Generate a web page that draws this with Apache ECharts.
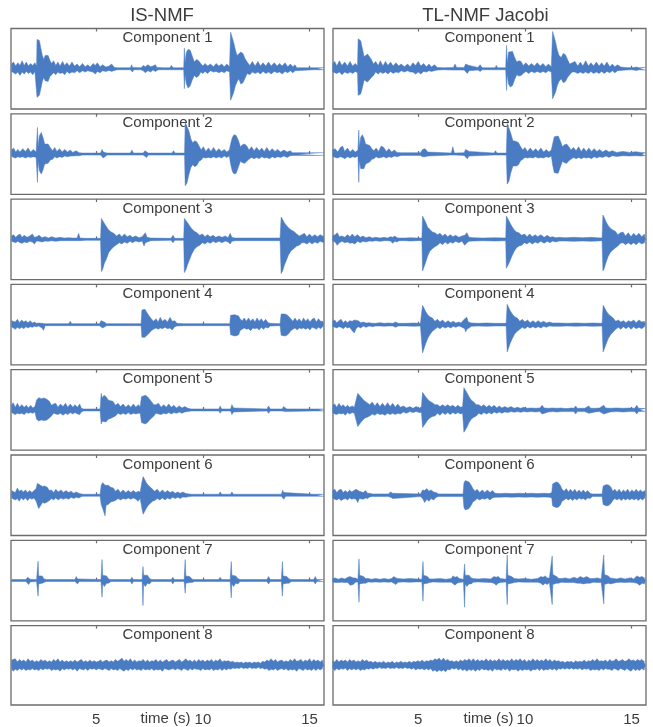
<!DOCTYPE html>
<html>
<head>
<meta charset="utf-8">
<script src="https://cdn.jsdelivr.net/npm/echarts@6/dist/echarts.min.js"></script>
<style>
html,body{margin:0;padding:0;background:#fff;}
#chart{width:653px;height:727px;}
</style>
</head>
<body>
<div id="chart"></div>
<script>
// ---- data: envelope key points [time (s), upper amplitude, lower amplitude] ----
const methods = ['IS-NMF', 'TL-NMF Jacobi'];
const components = ['Component 1','Component 2','Component 3','Component 4','Component 5','Component 6','Component 7','Component 8'];
const xTicks = [5, 10, 15];
const timeLabel = 'time (s)';

const isnmf1 = [[1.02,14,-8],[1.12,20,-12],[1.22,8,-16],[1.32,18,-10],[1.42,10,-20],[1.52,24,-10],[1.62,10,-16],[1.72,20,-8],[1.82,8,-14],[1.92,16,-10],[2.02,10,-18],[2.12,18,-8],[2.2,8,-12],[2.22,88,-86],[2.27,92,-88],[2.33,85,-80],[2.4,62,-60],[2.47,40,-38],[2.54,28,-26],[2.6,40,-36],[2.67,46,-42],[2.74,40,-38],[2.82,26,-24],[2.9,16,-22],[3.0,24,-12],[3.1,10,-18],[3.2,20,-10],[3.3,8,-14],[3.42,22,-12],[3.52,10,-18],[3.62,18,-8],[3.74,8,-14],[3.86,20,-10],[3.98,8,-12],[4.1,14,-6],[4.22,6,-12],[4.35,16,-6],[4.48,6,-10],[4.6,12,-6],[4.72,5,-8],[4.85,16,-10],[4.95,10,-16],[5.05,18,-8],[5.18,6,-12],[5.3,12,-6],[5.45,5,-8],[5.6,8,-5],[5.72,14,-8],[5.85,4,-5],[6.0,3,-3],[6.4,3,-3],[6.6,3,-3],[6.66,12,-4],[6.7,4,-10],[6.76,3,-3],[7.1,3,-3],[7.2,10,-6],[7.3,6,-12],[7.42,12,-6],[7.55,6,-10],[7.65,8,-4],[7.78,12,-8],[7.84,4,-12],[7.9,3,-3],[8.2,3,-3],[8.45,3,-3],[8.52,10,-8],[8.6,3,-3],[9.1,3,-3],[9.13,62,-60],[9.16,18,-18],[9.22,48,-44],[9.3,58,-58],[9.4,56,-52],[9.5,38,-34],[9.6,20,-20],[9.7,28,-26],[9.8,24,-22],[9.9,16,-10],[10.0,8,-14],[10.1,16,-8],[10.22,8,-14],[10.35,14,-6],[10.5,6,-10],[10.62,16,-8],[10.75,8,-12],[10.88,14,-8],[11.0,6,-12],[11.12,14,-6],[11.25,6,-10],[11.3,110,-95],[11.36,104,-92],[11.44,80,-72],[11.52,58,-52],[11.6,40,-40],[11.68,34,-30],[11.78,50,-46],[11.88,46,-42],[11.98,30,-28],[12.08,20,-14],[12.2,10,-18],[12.32,22,-10],[12.45,8,-14],[12.58,22,-10],[12.7,8,-16],[12.82,18,-8],[12.95,8,-14],[13.08,20,-10],[13.2,8,-16],[13.35,18,-8],[13.48,8,-12],[13.6,16,-10],[13.72,8,-16],[13.85,18,-8],[13.98,6,-12],[14.1,14,-6],[14.22,6,-12],[14.32,12,-6],[14.4,3,-3],[15.2,3,-3],[15.27,8,-6],[15.34,3,-3],[15.68,3,-3]];
const isnmf2 = [[1.02,12,-6],[1.12,18,-10],[1.22,6,-12],[1.32,14,-8],[1.42,6,-10],[1.55,16,-8],[1.68,8,-12],[1.8,18,-8],[1.92,6,-10],[2.05,14,-8],[2.18,6,-10],[2.24,80,-85],[2.27,22,-22],[2.33,55,-50],[2.42,65,-60],[2.5,50,-48],[2.58,30,-30],[2.66,32,-30],[2.74,30,-28],[2.84,20,-18],[2.95,10,-16],[3.05,20,-8],[3.15,8,-12],[3.28,16,-8],[3.4,6,-10],[3.52,14,-6],[3.65,6,-8],[3.78,12,-6],[3.9,5,-6],[4.05,10,-5],[4.2,4,-5],[4.35,3,-3],[5.2,3,-3],[5.27,14,-6],[5.33,6,-12],[5.42,10,-8],[5.5,3,-3],[6.6,3,-3],[6.67,12,-6],[6.74,3,-3],[7.2,3,-3],[7.28,10,-6],[7.36,6,-10],[7.44,3,-3],[8.55,3,-3],[8.62,10,-8],[8.69,3,-3],[9.14,3,-3],[9.17,95,-95],[9.25,90,-88],[9.34,70,-62],[9.44,45,-40],[9.52,34,-32],[9.62,40,-38],[9.72,36,-34],[9.82,24,-22],[9.92,12,-18],[10.02,22,-10],[10.14,8,-12],[10.26,18,-10],[10.38,8,-12],[10.5,20,-8],[10.62,8,-12],[10.75,16,-8],[10.88,8,-12],[11.0,14,-6],[11.12,6,-10],[11.24,12,-6],[11.3,30,-30],[11.38,50,-52],[11.46,58,-60],[11.56,56,-58],[11.66,42,-40],[11.76,22,-22],[11.86,28,-26],[11.96,30,-28],[12.06,24,-22],[12.16,12,-16],[12.28,22,-10],[12.4,10,-14],[12.52,20,-10],[12.64,10,-14],[12.76,18,-8],[12.88,8,-12],[13.0,20,-10],[13.12,8,-14],[13.25,16,-8],[13.38,8,-12],[13.5,14,-8],[13.65,6,-10],[13.8,12,-6],[13.95,6,-10],[14.1,10,-5],[14.2,4,-4],[15.68,4,-4]];
const isnmf3 = [[1.02,10,-6],[1.12,14,-8],[1.22,6,-10],[1.32,12,-6],[1.42,16,-10],[1.52,6,-12],[1.62,12,-8],[1.75,6,-10],[1.88,10,-6],[2.0,16,-8],[2.1,6,-14],[2.2,8,-5],[2.32,12,-6],[2.45,5,-8],[2.6,8,-5],[2.75,4,-6],[2.9,8,-4],[3.1,4,-6],[3.3,6,-4],[3.5,4,-4],[3.7,5,-4],[3.9,4,-4],[4.1,4,-4],[4.17,18,-8],[4.24,4,-4],[4.5,3,-3],[5.2,3,-3],[5.24,63,-97],[5.3,58,-90],[5.38,48,-72],[5.48,38,-58],[5.58,28,-40],[5.7,22,-30],[5.82,18,-22],[5.95,10,-16],[6.08,16,-10],[6.2,8,-14],[6.32,16,-8],[6.45,8,-12],[6.58,12,-6],[6.7,6,-10],[6.85,10,-5],[7.0,5,-8],[7.15,8,-5],[7.24,12,-20],[7.3,20,-10],[7.38,6,-6],[7.55,4,-4],[8.5,3,-3],[8.6,12,-10],[8.68,3,-3],[9.1,3,-3],[9.13,63,-100],[9.2,58,-92],[9.28,50,-76],[9.38,40,-60],[9.48,32,-44],[9.6,24,-30],[9.72,20,-22],[9.85,12,-18],[9.98,16,-10],[10.1,8,-14],[10.22,14,-8],[10.35,8,-12],[10.48,12,-6],[10.6,6,-10],[10.75,10,-6],[10.9,6,-10],[11.05,10,-5],[11.18,5,-8],[11.28,18,-14],[11.36,6,-6],[11.5,4,-4],[11.92,4,-4],[11.98,10,-8],[12.05,4,-4],[12.5,4,-4],[12.55,10,-8],[12.62,4,-4],[12.94,4,-4],[13.0,10,-10],[13.08,4,-4],[13.62,4,-4],[13.67,67,-103],[13.74,60,-95],[13.82,50,-78],[13.92,42,-62],[14.02,34,-46],[14.14,28,-34],[14.26,24,-28],[14.4,16,-20],[14.52,10,-18],[14.64,14,-10],[14.76,18,-10],[14.88,8,-14],[15.0,16,-8],[15.12,8,-14],[15.25,14,-8],[15.38,8,-12],[15.5,14,-6],[15.68,8,-10]];
const isnmf4 = [[1.02,12,-6],[1.1,18,-10],[1.2,8,-14],[1.3,16,-8],[1.4,6,-12],[1.5,14,-8],[1.6,8,-12],[1.7,12,-6],[1.8,6,-10],[1.9,12,-6],[2.0,5,-8],[2.1,8,-5],[2.2,4,-6],[2.3,5,-4],[2.45,4,-10],[2.53,4,-17],[2.6,3,-3],[3.7,3,-3],[3.78,10,-6],[3.85,3,-3],[5.15,3,-3],[5.22,12,-6],[5.3,6,-10],[5.38,8,-6],[5.48,3,-3],[6.6,3,-3],[6.67,8,-6],[6.74,3,-3],[7.1,3,-3],[7.14,44,-38],[7.2,50,-40],[7.28,46,-38],[7.38,36,-32],[7.48,26,-26],[7.58,18,-18],[7.68,10,-14],[7.8,18,-10],[7.9,8,-14],[8.0,22,-10],[8.1,10,-12],[8.22,16,-8],[8.34,8,-12],[8.46,22,-10],[8.56,10,-16],[8.68,12,-6],[8.78,4,-4],[9.1,3,-3],[9.17,8,-6],[9.24,3,-3],[10.65,3,-3],[10.73,6,-6],[10.8,3,-3],[11.26,3,-3],[11.3,28,-30],[11.38,31,-35],[11.48,30,-34],[11.58,28,-33],[11.68,26,-30],[11.74,18,-18],[11.84,12,-14],[11.94,20,-10],[12.04,10,-14],[12.14,20,-12],[12.24,10,-18],[12.34,18,-10],[12.44,8,-12],[12.54,20,-10],[12.64,10,-16],[12.74,18,-8],[12.84,8,-14],[12.94,16,-8],[13.06,6,-10],[13.16,4,-4],[13.62,3,-3],[13.67,32,-32],[13.74,36,-35],[13.84,32,-34],[13.94,30,-32],[14.04,24,-26],[14.12,18,-18],[14.22,10,-14],[14.32,20,-10],[14.42,10,-16],[14.52,18,-10],[14.62,8,-12],[14.72,20,-10],[14.82,10,-14],[14.92,18,-10],[15.02,8,-16],[15.12,16,-8],[15.22,20,-10],[15.32,8,-14],[15.42,18,-8],[15.52,10,-12],[15.62,10,-6],[15.68,6,-6]];
const isnmf5 = [[1.02,14,-8],[1.1,22,-12],[1.2,8,-14],[1.3,20,-10],[1.4,8,-12],[1.5,16,-10],[1.62,8,-14],[1.72,14,-8],[1.82,6,-10],[1.92,14,-8],[2.02,6,-10],[2.12,10,-6],[2.2,30,-28],[2.3,37,-33],[2.42,34,-30],[2.55,36,-32],[2.68,32,-30],[2.8,26,-24],[2.9,14,-18],[3.0,18,-10],[3.1,20,-12],[3.2,8,-14],[3.32,18,-10],[3.44,10,-16],[3.56,20,-10],[3.66,8,-14],[3.78,18,-8],[3.9,8,-12],[4.0,16,-8],[4.12,8,-12],[4.22,18,-14],[4.3,5,-6],[4.4,3,-3],[5.18,3,-3],[5.23,50,-42],[5.28,36,-34],[5.36,44,-38],[5.46,40,-36],[5.56,30,-28],[5.66,28,-26],[5.78,26,-22],[5.9,14,-18],[6.02,20,-10],[6.14,10,-14],[6.26,18,-10],[6.38,8,-14],[6.5,16,-8],[6.62,8,-14],[6.74,18,-10],[6.86,8,-12],[6.96,16,-10],[7.06,10,-10],[7.12,40,-38],[7.2,45,-42],[7.3,44,-42],[7.4,40,-38],[7.5,32,-30],[7.6,24,-24],[7.7,16,-18],[7.8,16,-10],[7.92,20,-12],[8.04,8,-14],[8.16,16,-10],[8.28,8,-12],[8.4,18,-8],[8.52,8,-12],[8.64,14,-8],[8.76,6,-10],[8.9,12,-6],[9.02,6,-10],[9.15,10,-6],[9.3,5,-5],[9.45,3,-3],[10.75,3,-3],[10.81,12,-10],[10.88,3,-3],[11.3,3,-3],[11.36,16,-14],[11.44,6,-6],[11.52,3,-3],[13.0,3,-3],[13.08,12,-10],[13.16,3,-3],[13.72,3,-3],[13.78,10,-8],[13.86,5,-5],[13.94,3,-3],[15.2,3,-3],[15.27,8,-8],[15.34,3,-3],[15.68,3,-3]];
const isnmf6 = [[1.02,14,-8],[1.1,18,-12],[1.2,8,-14],[1.3,22,-10],[1.38,12,-18],[1.48,16,-8],[1.58,10,-14],[1.68,16,-8],[1.78,8,-16],[1.88,14,-8],[1.98,8,-12],[2.08,14,-8],[2.18,20,-18],[2.24,36,-30],[2.3,34,-40],[2.38,30,-36],[2.48,26,-22],[2.58,28,-24],[2.7,24,-20],[2.8,14,-16],[2.9,16,-10],[3.0,8,-14],[3.1,18,-8],[3.22,10,-14],[3.34,16,-8],[3.46,8,-12],[3.58,14,-8],[3.7,8,-12],[3.82,12,-6],[3.94,6,-10],[4.06,10,-6],[4.18,6,-8],[4.3,4,-4],[4.4,3,-3],[5.18,3,-3],[5.23,30,-28],[5.3,38,-40],[5.36,34,-36],[5.41,30,-62],[5.46,32,-30],[5.56,30,-28],[5.68,24,-20],[5.8,22,-18],[5.9,12,-16],[6.02,18,-10],[6.14,8,-14],[6.26,16,-10],[6.38,8,-12],[6.5,14,-8],[6.62,8,-12],[6.74,14,-8],[6.86,8,-12],[6.96,12,-18],[7.06,10,-10],[7.14,40,-40],[7.2,56,-57],[7.26,50,-52],[7.34,38,-40],[7.44,30,-30],[7.54,24,-24],[7.64,18,-18],[7.74,12,-16],[7.86,18,-10],[7.98,8,-14],[8.1,16,-8],[8.22,8,-14],[8.34,14,-8],[8.46,8,-12],[8.58,12,-6],[8.7,6,-10],[8.82,10,-6],[8.94,6,-10],[9.06,10,-5],[9.2,5,-6],[9.35,4,-4],[9.5,3,-3],[10.75,3,-3],[10.81,10,-8],[10.88,3,-3],[11.3,3,-3],[11.36,10,-8],[11.43,3,-3],[13.02,3,-3],[13.08,8,-6],[13.14,3,-3],[13.68,3,-3],[13.74,15,-8],[13.8,8,-12],[13.88,3,-3],[15.2,3,-3],[15.27,8,-6],[15.34,3,-3],[15.68,3,-3]];
const isnmf7 = [[1.02,3,-3],[1.7,3,-3],[1.78,10,-6],[1.83,8,-12],[1.9,4,-4],[2.2,3,-3],[2.27,58,-47],[2.3,14,-10],[2.38,12,-16],[2.46,14,-8],[2.55,5,-8],[2.65,3,-3],[4.0,3,-3],[4.06,12,-6],[4.12,5,-10],[4.2,3,-3],[5.22,3,-3],[5.27,63,-50],[5.3,16,-10],[5.38,12,-18],[5.48,14,-8],[5.58,5,-8],[5.68,3,-3],[6.6,3,-3],[6.67,10,-10],[6.74,3,-3],[7.15,3,-3],[7.19,42,-75],[7.22,16,-10],[7.3,12,-18],[7.4,16,-8],[7.5,6,-10],[7.6,3,-3],[8.52,3,-3],[8.59,10,-10],[8.66,3,-3],[9.12,3,-3],[9.17,63,-38],[9.2,14,-8],[9.28,10,-14],[9.38,12,-6],[9.5,4,-6],[9.6,3,-3],[10.74,3,-3],[10.81,10,-8],[10.88,3,-3],[11.28,3,-3],[11.33,57,-52],[11.36,16,-10],[11.44,12,-18],[11.54,14,-8],[11.64,6,-10],[11.74,3,-3],[13.0,3,-3],[13.08,12,-10],[13.16,3,-3],[13.68,3,-3],[13.73,57,-47],[13.76,14,-10],[13.84,12,-16],[13.94,12,-8],[14.04,5,-8],[14.14,3,-3],[15.2,3,-3],[15.27,12,-10],[15.34,3,-3],[15.68,3,-3]];
const isnmf8 = [[1.02,16,-10],[1.1,12,-18],[1.2,20,-12],[1.3,10,-16],[1.4,18,-10],[1.5,12,-14],[1.6,16,-10],[1.7,10,-16],[1.8,20,-12],[1.9,12,-14],[2.0,16,-10],[2.1,10,-14],[2.2,14,-12],[2.3,10,-16],[2.4,18,-10],[2.5,12,-14],[2.6,16,-10],[2.7,10,-12],[2.8,14,-10],[2.9,10,-16],[3.0,18,-12],[3.1,12,-14],[3.2,20,-12],[3.3,10,-18],[3.4,16,-10],[3.5,10,-14],[3.6,14,-10],[3.7,10,-12],[3.8,14,-10],[3.9,10,-14],[4.0,16,-10],[4.1,10,-18],[4.2,14,-10],[4.3,18,-12],[4.4,10,-14],[4.5,14,-10],[4.6,10,-16],[4.7,16,-10],[4.8,10,-12],[4.9,14,-10],[5.0,10,-14],[5.1,12,-10],[5.2,16,-12],[5.3,10,-14],[5.4,14,-10],[5.5,16,-12],[5.6,10,-16],[5.7,14,-10],[5.8,10,-14],[5.9,18,-12],[6.0,12,-16],[6.1,16,-10],[6.2,22,-14],[6.3,12,-18],[6.4,18,-12],[6.5,12,-16],[6.6,20,-10],[6.7,10,-14],[6.8,16,-10],[6.9,10,-14],[7.0,14,-12],[7.1,12,-16],[7.2,18,-10],[7.3,10,-14],[7.4,16,-12],[7.5,10,-14],[7.6,14,-10],[7.7,12,-16],[7.8,18,-12],[7.9,10,-14],[8.0,16,-12],[8.1,10,-18],[8.2,14,-10],[8.3,18,-12],[8.4,10,-14],[8.5,14,-12],[8.6,16,-10],[8.7,10,-14],[8.8,14,-10],[8.9,18,-12],[9.0,10,-16],[9.1,14,-10],[9.2,20,-12],[9.3,12,-16],[9.4,16,-10],[9.5,10,-14],[9.6,16,-10],[9.7,10,-12],[9.8,18,-12],[9.9,12,-16],[10.0,16,-10],[10.1,10,-14],[10.2,16,-12],[10.3,12,-14],[10.4,18,-10],[10.5,10,-16],[10.6,16,-12],[10.7,12,-14],[10.8,20,-10],[10.9,10,-16],[11.0,14,-10],[11.1,12,-14],[11.2,14,-10],[11.3,10,-12],[11.4,12,-8],[11.5,8,-10],[11.6,10,-8],[11.7,8,-10],[11.8,10,-6],[11.9,6,-10],[12.0,10,-8],[12.1,8,-10],[12.2,10,-6],[12.3,6,-10],[12.4,10,-8],[12.5,8,-10],[12.6,10,-6],[12.7,6,-10],[12.8,12,-8],[12.9,10,-12],[13.0,16,-10],[13.1,12,-16],[13.2,20,-12],[13.3,12,-14],[13.4,18,-10],[13.5,10,-16],[13.6,14,-12],[13.7,16,-10],[13.8,10,-14],[13.9,14,-10],[14.0,10,-16],[14.1,18,-12],[14.2,12,-14],[14.3,20,-12],[14.4,12,-18],[14.5,14,-10],[14.6,18,-12],[14.7,10,-16],[14.8,16,-10],[14.9,12,-14],[15.0,20,-12],[15.1,10,-16],[15.2,18,-10],[15.3,12,-16],[15.4,16,-10],[15.5,10,-14],[15.6,16,-10],[15.68,12,-12]];

const tlnmf1 = [[0.98,14,-8],[1.08,22,-12],[1.18,8,-14],[1.3,24,-10],[1.42,10,-18],[1.55,20,-10],[1.68,8,-14],[1.8,22,-10],[1.92,8,-14],[2.05,16,-8],[2.15,8,-12],[2.18,90,-80],[2.24,92,-82],[2.3,84,-76],[2.38,60,-56],[2.46,36,-34],[2.54,30,-28],[2.62,44,-40],[2.7,44,-40],[2.8,28,-26],[2.9,14,-20],[3.0,22,-10],[3.12,10,-16],[3.22,24,-10],[3.34,8,-14],[3.46,22,-10],[3.58,10,-16],[3.7,20,-8],[3.82,8,-14],[3.95,18,-10],[4.08,8,-12],[4.2,14,-6],[4.35,6,-10],[4.5,14,-6],[4.62,6,-10],[4.75,18,-10],[4.87,10,-16],[5.0,22,-10],[5.12,8,-16],[5.25,16,-8],[5.38,6,-10],[5.5,14,-6],[5.62,5,-8],[5.75,12,-6],[5.9,4,-4],[6.2,3,-3],[6.65,4,-4],[6.72,14,-10],[6.8,4,-4],[7.15,4,-4],[7.22,14,-8],[7.3,8,-14],[7.38,10,-6],[7.45,4,-4],[7.8,4,-4],[7.9,12,-8],[8.0,3,-3],[8.6,3,-3],[8.66,10,-8],[8.72,3,-3],[9.1,3,-3],[9.14,70,-65],[9.17,16,-16],[9.23,50,-46],[9.32,55,-55],[9.42,52,-50],[9.52,34,-32],[9.62,20,-18],[9.72,24,-22],[9.82,22,-20],[9.92,10,-14],[10.05,18,-8],[10.18,8,-14],[10.3,16,-8],[10.45,8,-12],[10.58,18,-8],[10.72,8,-12],[10.85,16,-8],[10.98,6,-12],[11.1,14,-6],[11.24,6,-10],[11.3,112,-90],[11.36,106,-86],[11.44,80,-70],[11.52,56,-50],[11.6,40,-38],[11.7,34,-30],[11.8,46,-42],[11.9,42,-38],[12.0,28,-26],[12.1,14,-18],[12.22,18,-10],[12.35,22,-10],[12.48,8,-14],[12.6,20,-10],[12.72,8,-14],[12.85,24,-10],[12.98,8,-14],[13.1,18,-8],[13.22,8,-14],[13.35,20,-10],[13.48,8,-14],[13.6,18,-8],[13.72,8,-14],[13.85,20,-8],[13.98,6,-12],[14.1,14,-6],[14.22,6,-12],[14.35,12,-6],[14.5,5,-5],[14.7,4,-4],[15.0,3,-3],[15.25,5,-5],[15.35,3,-3],[15.67,4,-4]];
const tlnmf2 = [[0.98,12,-6],[1.1,16,-10],[1.22,6,-12],[1.35,20,-8],[1.45,24,-10],[1.55,8,-14],[1.68,18,-8],[1.8,6,-12],[1.92,14,-8],[2.05,6,-10],[2.17,12,-6],[2.21,72,-85],[2.24,20,-20],[2.3,50,-44],[2.37,58,-50],[2.45,48,-44],[2.53,30,-30],[2.62,26,-24],[2.72,26,-24],[2.82,16,-16],[2.92,10,-14],[3.02,18,-8],[3.14,8,-12],[3.26,24,-10],[3.38,20,-8],[3.5,8,-12],[3.62,16,-8],[3.75,6,-10],[3.88,12,-6],[4.0,5,-8],[4.2,4,-4],[5.1,4,-4],[5.2,14,-8],[5.26,8,-14],[5.32,16,-8],[5.44,6,-6],[6.55,3,-3],[6.62,22,-8],[6.69,3,-3],[7.15,4,-4],[7.22,14,-8],[7.3,8,-14],[7.38,8,-6],[7.45,4,-4],[8.55,3,-3],[8.62,10,-8],[8.69,3,-3],[9.13,3,-3],[9.17,92,-90],[9.25,86,-82],[9.34,62,-56],[9.44,40,-36],[9.52,34,-32],[9.6,38,-36],[9.7,34,-32],[9.8,22,-20],[9.9,12,-16],[10.0,20,-10],[10.12,8,-12],[10.25,18,-10],[10.38,8,-12],[10.5,16,-8],[10.62,8,-12],[10.75,18,-10],[10.88,6,-12],[11.0,14,-8],[11.12,6,-10],[11.24,12,-6],[11.3,30,-32],[11.38,52,-56],[11.46,58,-62],[11.56,54,-58],[11.66,40,-40],[11.76,22,-22],[11.86,28,-26],[11.96,30,-28],[12.06,22,-20],[12.16,12,-16],[12.28,20,-10],[12.4,10,-14],[12.52,22,-10],[12.64,8,-14],[12.76,18,-10],[12.88,8,-12],[13.0,18,-10],[13.12,8,-14],[13.25,16,-8],[13.38,8,-12],[13.5,14,-8],[13.65,6,-10],[13.8,12,-6],[13.95,6,-10],[14.1,10,-5],[14.3,5,-7],[14.6,8,-5],[14.9,5,-6],[15.2,7,-5],[15.45,5,-6],[15.67,4,-4]];
const tlnmf3 = [[0.98,10,-6],[1.1,14,-8],[1.2,20,-18],[1.3,8,-10],[1.42,10,-6],[1.55,6,-10],[1.68,14,-8],[1.8,8,-12],[1.9,16,-10],[2.02,8,-14],[2.15,14,-6],[2.28,6,-10],[2.4,10,-6],[2.55,5,-8],[2.7,8,-5],[2.85,4,-6],[3.0,6,-4],[3.2,4,-6],[3.4,6,-4],[3.55,4,-4],[3.7,8,-5],[3.8,6,-12],[3.9,10,-6],[4.0,5,-8],[4.1,4,-4],[4.4,4,-4],[4.6,5,-5],[5.0,4,-4],[5.17,4,-4],[5.2,70,-95],[5.26,66,-90],[5.34,52,-70],[5.44,36,-50],[5.54,30,-36],[5.66,22,-28],[5.78,20,-22],[5.9,14,-18],[6.02,18,-10],[6.14,10,-16],[6.26,16,-8],[6.38,8,-14],[6.5,14,-8],[6.62,8,-12],[6.75,12,-6],[6.9,6,-10],[7.05,10,-6],[7.18,12,-18],[7.28,20,-10],[7.38,6,-6],[7.6,5,-5],[8.0,4,-4],[8.6,5,-5],[9.1,4,-4],[9.13,70,-87],[9.2,64,-82],[9.28,52,-68],[9.38,40,-52],[9.48,30,-38],[9.6,22,-26],[9.72,20,-20],[9.85,12,-18],[9.98,16,-10],[10.1,8,-14],[10.22,16,-8],[10.35,8,-14],[10.48,14,-8],[10.6,8,-12],[10.75,14,-6],[10.9,6,-12],[11.05,12,-6],[11.18,6,-10],[11.3,8,-5],[11.45,5,-8],[11.6,6,-5],[11.9,5,-5],[12.3,6,-6],[12.7,5,-5],[13.1,6,-6],[13.4,5,-5],[13.62,4,-4],[13.66,73,-95],[13.72,66,-88],[13.8,54,-70],[13.9,42,-52],[14.0,34,-40],[14.12,28,-32],[14.24,24,-26],[14.36,14,-20],[14.48,20,-12],[14.6,22,-10],[14.72,10,-16],[14.85,20,-10],[14.98,8,-16],[15.1,18,-10],[15.22,10,-16],[15.35,18,-8],[15.48,8,-14],[15.6,16,-10],[15.67,10,-10]];
const tlnmf4 = [[0.98,10,-6],[1.08,14,-8],[1.18,6,-10],[1.28,12,-6],[1.38,16,-8],[1.48,6,-12],[1.58,12,-6],[1.68,6,-10],[1.78,12,-8],[1.9,10,-18],[2.0,14,-25],[2.08,8,-12],[2.18,12,-6],[2.3,6,-10],[2.42,8,-4],[2.55,5,-8],[2.7,6,-4],[2.85,4,-6],[3.0,4,-4],[3.2,6,-4],[3.4,4,-5],[3.6,5,-4],[3.8,4,-4],[3.95,8,-8],[4.05,4,-4],[4.4,4,-4],[4.8,5,-5],[5.1,4,-4],[5.2,58,-85],[5.26,54,-80],[5.34,40,-58],[5.44,30,-42],[5.54,24,-30],[5.66,20,-20],[5.78,10,-14],[5.9,16,-8],[6.02,8,-12],[6.14,14,-6],[6.26,6,-10],[6.4,12,-6],[6.52,6,-10],[6.64,10,-5],[6.76,5,-8],[6.9,8,-4],[7.0,5,-6],[7.18,18,-12],[7.22,12,-22],[7.28,22,-14],[7.34,8,-8],[7.5,5,-5],[7.8,4,-4],[8.2,5,-5],[8.6,4,-4],[9.12,4,-4],[9.17,61,-82],[9.23,56,-76],[9.31,42,-56],[9.41,32,-42],[9.52,24,-28],[9.64,20,-20],[9.76,10,-14],[9.88,16,-8],[10.0,8,-12],[10.12,14,-6],[10.25,6,-10],[10.38,12,-6],[10.5,6,-10],[10.62,12,-6],[10.75,6,-10],[10.88,10,-5],[11.0,5,-8],[11.15,8,-4],[11.3,5,-5],[11.6,5,-5],[12.0,4,-4],[12.4,5,-5],[12.8,4,-4],[13.2,5,-5],[13.62,4,-4],[13.67,58,-82],[13.73,54,-78],[13.81,42,-58],[13.91,32,-42],[14.02,26,-30],[14.14,20,-22],[14.26,10,-14],[14.38,14,-8],[14.5,8,-14],[14.62,12,-6],[14.74,6,-12],[14.86,12,-6],[14.98,8,-14],[15.1,14,-6],[15.22,6,-12],[15.35,14,-8],[15.48,8,-12],[15.6,10,-6],[15.67,6,-6]];
const tlnmf5 = [[0.98,14,-8],[1.08,18,-12],[1.18,8,-14],[1.28,20,-10],[1.38,10,-12],[1.48,16,-10],[1.58,8,-16],[1.68,14,-8],[1.78,8,-12],[1.9,12,-8],[2.0,8,-10],[2.08,12,-8],[2.16,50,-50],[2.22,48,-48],[2.3,40,-38],[2.4,32,-30],[2.5,26,-24],[2.6,22,-22],[2.72,16,-18],[2.84,24,-12],[2.96,12,-16],[3.08,22,-10],[3.2,10,-14],[3.32,20,-12],[3.44,10,-16],[3.56,22,-10],[3.68,10,-14],[3.8,20,-10],[3.92,8,-14],[4.04,18,-10],[4.16,8,-12],[4.3,12,-6],[4.45,6,-10],[4.6,10,-5],[4.75,5,-8],[4.9,10,-5],[5.05,5,-8],[5.15,10,-8],[5.2,53,-53],[5.26,50,-50],[5.34,40,-40],[5.44,32,-30],[5.54,26,-24],[5.66,22,-20],[5.78,16,-18],[5.9,16,-10],[6.02,10,-16],[6.14,16,-8],[6.26,10,-14],[6.38,16,-8],[6.5,10,-14],[6.62,14,-8],[6.74,8,-12],[6.86,14,-8],[6.98,8,-12],[7.08,10,-10],[7.14,67,-67],[7.2,64,-64],[7.28,52,-52],[7.38,40,-38],[7.48,30,-28],[7.6,24,-22],[7.72,16,-18],[7.84,16,-10],[7.96,10,-14],[8.08,16,-8],[8.2,8,-12],[8.32,14,-8],[8.44,8,-12],[8.56,14,-6],[8.68,6,-10],[8.8,12,-6],[8.92,6,-10],[9.05,10,-6],[9.2,6,-8],[9.35,10,-5],[9.5,5,-7],[9.65,8,-5],[9.8,5,-7],[9.95,8,-5],[10.1,5,-6],[10.3,6,-5],[10.5,5,-6],[10.7,6,-5],[10.81,14,-12],[10.9,6,-6],[11.1,5,-6],[11.3,6,-5],[11.5,5,-6],[11.7,6,-5],[11.9,4,-5],[12.2,6,-5],[12.3,5,-5],[12.38,12,-12],[12.46,5,-5],[12.8,5,-5],[13.0,12,-10],[13.08,5,-5],[13.3,5,-6],[13.5,6,-5],[13.7,14,-12],[13.78,6,-6],[14.0,5,-6],[14.3,6,-5],[14.6,5,-6],[14.9,6,-5],[15.15,5,-5],[15.25,14,-12],[15.33,5,-5],[15.67,4,-4]];
const tlnmf6 = [[0.98,14,-8],[1.08,18,-12],[1.18,8,-14],[1.28,16,-10],[1.38,18,-16],[1.48,8,-12],[1.58,14,-10],[1.68,8,-14],[1.78,16,-8],[1.88,10,-12],[1.98,14,-10],[2.08,18,-12],[2.16,16,-22],[2.24,12,-10],[2.32,16,-12],[2.42,8,-12],[2.52,14,-8],[2.62,6,-10],[2.72,6,-5],[2.85,4,-4],[3.6,4,-4],[3.7,10,-6],[3.8,6,-10],[3.88,4,-4],[5.1,4,-4],[5.2,16,-10],[5.3,14,-22],[5.4,20,-12],[5.5,12,-18],[5.6,16,-10],[5.72,10,-14],[5.84,8,-6],[5.95,4,-4],[6.6,4,-4],[6.67,8,-6],[6.74,4,-4],[7.1,4,-4],[7.14,36,-36],[7.2,44,-44],[7.28,45,-44],[7.38,40,-40],[7.48,30,-30],[7.56,20,-20],[7.66,12,-16],[7.76,18,-10],[7.88,8,-14],[8.0,16,-10],[8.12,8,-12],[8.24,16,-8],[8.36,8,-14],[8.48,14,-8],[8.6,6,-6],[8.8,5,-6],[9.1,6,-5],[9.4,5,-6],[9.7,6,-5],[10.0,5,-6],[10.3,6,-5],[10.6,5,-6],[10.9,6,-5],[11.15,5,-6],[11.26,8,-8],[11.3,34,-32],[11.38,40,-37],[11.46,40,-37],[11.56,38,-36],[11.66,30,-30],[11.74,18,-18],[11.84,12,-14],[11.94,20,-10],[12.04,10,-14],[12.14,18,-10],[12.24,10,-16],[12.34,18,-10],[12.44,8,-14],[12.54,16,-8],[12.64,8,-12],[12.74,16,-10],[12.84,8,-14],[12.94,14,-8],[13.06,6,-10],[13.16,4,-4],[13.62,4,-4],[13.67,28,-28],[13.74,33,-34],[13.84,32,-32],[13.94,30,-30],[14.04,24,-24],[14.12,12,-16],[14.22,18,-10],[14.32,10,-14],[14.42,18,-10],[14.52,8,-16],[14.62,16,-10],[14.72,10,-14],[14.82,18,-10],[14.92,8,-14],[15.02,16,-10],[15.12,10,-14],[15.22,18,-10],[15.32,10,-16],[15.42,16,-10],[15.52,10,-14],[15.62,14,-8],[15.67,8,-8]];
const tlnmf7 = [[0.98,6,-4],[1.1,8,-6],[1.25,4,-6],[1.4,8,-5],[1.55,5,-6],[1.7,10,-6],[1.8,12,-14],[1.88,15,-8],[1.95,8,-12],[2.05,8,-5],[2.17,4,-4],[2.22,65,-65],[2.25,16,-10],[2.33,12,-16],[2.43,12,-8],[2.53,6,-8],[2.65,6,-4],[2.8,4,-5],[3.0,6,-4],[3.2,4,-5],[3.4,6,-4],[3.6,4,-5],[3.75,6,-4],[3.85,12,-8],[3.95,8,-12],[4.05,6,-5],[4.3,5,-4],[4.6,6,-5],[4.9,5,-4],[5.17,4,-4],[5.22,57,-62],[5.25,16,-10],[5.33,12,-16],[5.43,12,-8],[5.53,5,-6],[5.7,5,-4],[6.0,6,-5],[6.3,4,-5],[6.55,6,-5],[6.62,14,-8],[6.72,10,-14],[6.82,12,-8],[6.92,6,-6],[7.12,4,-4],[7.17,50,-80],[7.2,16,-10],[7.28,14,-18],[7.38,16,-10],[7.48,8,-10],[7.58,6,-5],[7.8,5,-4],[8.1,6,-5],[8.4,5,-6],[8.55,12,-8],[8.65,10,-14],[8.75,12,-8],[8.85,6,-6],[9.12,4,-4],[9.17,77,-72],[9.2,16,-10],[9.28,12,-14],[9.38,12,-8],[9.5,6,-6],[9.7,5,-4],[10.0,6,-5],[10.3,4,-5],[10.6,6,-5],[10.75,12,-8],[10.85,10,-14],[10.95,14,-8],[11.05,8,-12],[11.15,8,-6],[11.23,6,-8],[11.28,74,-72],[11.31,18,-12],[11.39,12,-16],[11.49,12,-8],[11.59,6,-8],[11.7,6,-5],[11.9,8,-6],[12.1,5,-6],[12.3,10,-6],[12.45,6,-8],[12.6,12,-8],[12.75,8,-10],[12.9,12,-8],[13.05,6,-8],[13.2,6,-5],[13.4,8,-6],[13.58,5,-6],[13.65,6,-6],[13.7,77,-70],[13.73,18,-12],[13.81,12,-16],[13.91,14,-8],[14.01,8,-10],[14.1,8,-6],[14.3,5,-6],[14.5,8,-5],[14.7,5,-6],[14.9,8,-5],[15.1,5,-6],[15.25,14,-8],[15.38,10,-14],[15.5,12,-8],[15.6,8,-10],[15.67,8,-6]];
const tlnmf8 = [[0.98,14,-8],[1.08,10,-16],[1.18,18,-10],[1.28,10,-14],[1.38,16,-10],[1.48,12,-12],[1.58,16,-8],[1.68,10,-16],[1.78,18,-10],[1.88,12,-14],[1.98,16,-10],[2.08,10,-14],[2.18,14,-10],[2.28,10,-16],[2.38,18,-12],[2.48,12,-14],[2.58,16,-10],[2.68,10,-12],[2.78,12,-8],[2.88,8,-12],[2.98,12,-8],[3.08,8,-10],[3.18,10,-6],[3.28,8,-10],[3.38,12,-8],[3.48,6,-10],[3.58,10,-6],[3.68,8,-10],[3.78,12,-8],[3.88,6,-10],[3.98,10,-6],[4.08,8,-10],[4.18,12,-8],[4.28,8,-10],[4.38,10,-6],[4.48,8,-10],[4.58,12,-8],[4.68,8,-12],[4.78,12,-8],[4.88,10,-14],[4.98,14,-10],[5.08,10,-12],[5.18,16,-10],[5.28,10,-14],[5.38,14,-10],[5.48,12,-14],[5.58,16,-10],[5.68,14,-18],[5.78,20,-14],[5.88,16,-20],[5.98,22,-14],[6.08,14,-18],[6.18,22,-14],[6.28,14,-20],[6.38,18,-12],[6.48,12,-14],[6.58,14,-8],[6.68,10,-12],[6.78,14,-8],[6.88,10,-14],[6.98,16,-10],[7.08,12,-16],[7.18,18,-12],[7.28,14,-18],[7.38,20,-12],[7.48,12,-16],[7.58,20,-12],[7.68,12,-18],[7.78,18,-12],[7.88,12,-16],[7.98,16,-10],[8.08,12,-14],[8.18,20,-12],[8.28,12,-16],[8.38,18,-12],[8.48,12,-18],[8.58,16,-10],[8.68,12,-14],[8.78,20,-12],[8.88,12,-16],[8.98,18,-10],[9.08,12,-14],[9.18,16,-10],[9.28,12,-18],[9.38,20,-12],[9.48,12,-14],[9.58,18,-12],[9.68,14,-18],[9.78,20,-12],[9.88,12,-16],[9.98,18,-12],[10.08,10,-14],[10.18,16,-12],[10.28,12,-18],[10.38,20,-12],[10.48,12,-14],[10.58,18,-10],[10.68,12,-16],[10.78,16,-10],[10.88,12,-16],[10.98,20,-12],[11.08,12,-14],[11.18,18,-10],[11.28,10,-14],[11.38,16,-10],[11.48,12,-16],[11.58,14,-10],[11.68,10,-12],[11.78,12,-8],[11.88,8,-12],[11.98,12,-8],[12.08,10,-12],[12.18,12,-8],[12.28,8,-12],[12.38,14,-10],[12.48,10,-12],[12.58,12,-8],[12.68,10,-14],[12.78,16,-10],[12.88,10,-12],[12.98,14,-10],[13.08,12,-16],[13.18,18,-12],[13.28,12,-14],[13.38,20,-12],[13.48,12,-16],[13.58,14,-10],[13.68,12,-14],[13.78,16,-10],[13.88,10,-12],[13.98,18,-12],[14.08,12,-16],[14.18,14,-10],[14.28,20,-12],[14.38,12,-16],[14.48,14,-10],[14.58,18,-12],[14.68,12,-16],[14.78,14,-10],[14.88,20,-14],[14.98,14,-18],[15.08,16,-10],[15.18,12,-16],[15.28,18,-12],[15.38,14,-16],[15.48,18,-10],[15.58,12,-14],[15.67,12,-10]];

const columns = [
  [isnmf1, isnmf2, isnmf3, isnmf4, isnmf5, isnmf6, isnmf7, isnmf8],
  [tlnmf1, tlnmf2, tlnmf3, tlnmf4, tlnmf5, tlnmf6, tlnmf7, tlnmf8]
];

// ---- layout / style ----
const FONT = '"Liberation Sans", Arial, Helvetica, sans-serif';
const WAVE = '#4a7cc3';
const FRAME = '#6c6c6c';
const TEXT = '#3c3c3c';
const colLeft = [11, 333];
const panelW = 313;
const rowTop = r => 28.5 + r * 85.3;
const panelH = 80.5;
const X_MIN = 1.0, X_MAX = 15.68, Y_LIM = 121;

const grids = [], xAxes = [], yAxes = [], series = [], graphics = [];
let k = 0;
for (let c = 0; c < 2; c++) {
  for (let r = 0; r < 8; r++) {
    const data = columns[c][r];
    grids.push({left: colLeft[c], top: rowTop(r), width: panelW, height: panelH,
      show: true, borderColor: FRAME, borderWidth: 1.3, backgroundColor: 'transparent'});
    const baseX = {type: 'value', gridIndex: k, min: X_MIN, max: X_MAX,
      axisLine: {show: false}, splitLine: {show: false}};
    xAxes.push(Object.assign({}, baseX, {position: 'bottom',
      axisTick: {show: true, inside: true, length: 3, customValues: xTicks, lineStyle: {color: FRAME, width: 1.2}},
      axisLabel: {show: r === 7, customValues: xTicks, color: TEXT, fontSize: 15, margin: 7, fontFamily: FONT}}));
    xAxes.push(Object.assign({}, baseX, {position: 'top',
      axisTick: {show: true, inside: true, length: 3, customValues: xTicks, lineStyle: {color: FRAME, width: 1.2}},
      axisLabel: {show: false}}));
    yAxes.push({type: 'value', gridIndex: k, min: -Y_LIM, max: Y_LIM, show: false});
    const common = {type: 'line', xAxisIndex: 2 * k, yAxisIndex: k, showSymbol: false, symbol: 'none',
      silent: true, animation: false, z: 3, clip: true,
      lineStyle: {width: 0.5, color: WAVE}};
    series.push(Object.assign({}, common, {data: data.map(d => [d[0], d[1]]),
      areaStyle: {color: WAVE, opacity: 1, origin: -1}}));
    series.push(Object.assign({}, common, {data: data.map(d => [d[0], d[2]]),
      areaStyle: {color: WAVE, opacity: 1, origin: 1}}));
    graphics.push({type: 'text', x: colLeft[c] + panelW / 2, y: rowTop(r) + 9.5, z: 1,
      style: {text: components[r], fill: TEXT, font: '15px ' + FONT, align: 'center', verticalAlign: 'middle'}});
    k++;
  }
}
graphics.push({type: 'text', x: 162, y: 16, style: {text: methods[0], fill: TEXT, font: '18.5px ' + FONT, align: 'center', verticalAlign: 'middle'}});
graphics.push({type: 'text', x: 485.5, y: 16, style: {text: methods[1], fill: TEXT, font: '18.5px ' + FONT, align: 'center', verticalAlign: 'middle'}});
graphics.push({type: 'text', x: 165.5, y: 718.5, style: {text: timeLabel, fill: TEXT, font: '15px ' + FONT, align: 'center', verticalAlign: 'middle'}});
graphics.push({type: 'text', x: 488.5, y: 718.5, style: {text: timeLabel, fill: TEXT, font: '15px ' + FONT, align: 'center', verticalAlign: 'middle'}});

const chart = echarts.init(document.getElementById('chart'), null, {renderer: 'canvas'});
chart.setOption({
  animation: false,
  backgroundColor: '#ffffff',
  grid: grids,
  xAxis: xAxes,
  yAxis: yAxes,
  series: series,
  graphic: graphics
});
</script>
</body>
</html>
